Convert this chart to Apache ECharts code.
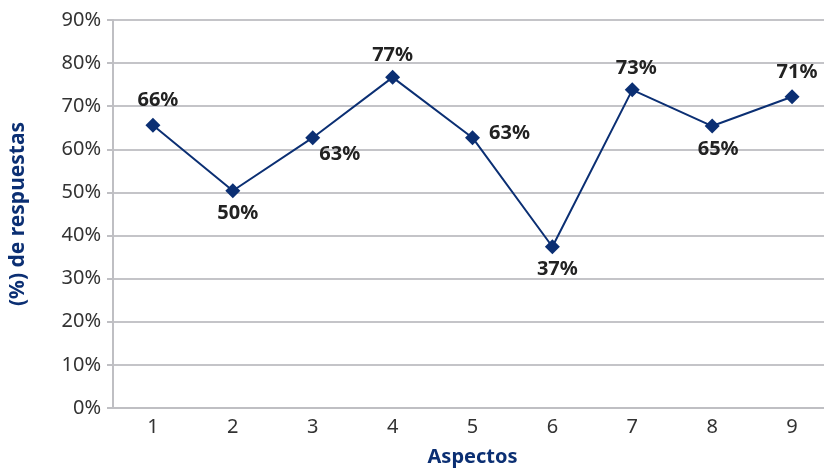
<!DOCTYPE html>
<html>
<head>
<meta charset="utf-8">
<script src="https://cdn.jsdelivr.net/npm/echarts@6/dist/echarts.min.js"></script>
<style>
html,body{margin:0;padding:0;background:#fff;}
#c{width:824px;height:471px;}
</style>
</head>
<body>
<div id="c"></div>
<script>
var categories = ['1','2','3','4','5','6','7','8','9'];
var values = [65.6, 50.4, 62.7, 76.7, 62.7, 37.4, 73.8, 65.4, 72.2];
var labelTexts = ['66%','50%','63%','77%','63%','37%','73%','65%','71%'];
var labelOffsets = [[5,-25],[5,23],[27,17],[0,-22],[37,-4],[5,23],[4,-22],[6,23],[5,-24]];

var blue = '#0b2f73';
var font = 'Noto Sans';
var chart = echarts.init(document.getElementById('c'));
chart.setOption({
  animation: false,
  grid: {left: 113, right: -8, top: 20, bottom: 63, containLabel: false, outerBoundsMode: 'none'},
  xAxis: {
    type: 'category',
    data: categories,
    boundaryGap: true,
    name: 'Aspectos',
    nameLocation: 'middle',
    nameGap: 39,
    nameTextStyle: {fontFamily: font, fontWeight: 'bold', fontSize: 20, color: blue},
    axisLine: {lineStyle: {color: '#bfbfc3', width: 2}},
    axisTick: {show: false},
    axisLabel: {fontFamily: font, fontSize: 20, color: '#333', margin: 9}
  },
  yAxis: {
    type: 'value',
    min: 0, max: 90, interval: 10,
    name: '(%) de respuestas',
    nameLocation: 'middle',
    nameGap: 84,
    nameTextStyle: {fontFamily: font, fontWeight: 'bold', fontSize: 21, color: blue},
    axisLine: {show: true, lineStyle: {color: '#bfbfc3', width: 2}},
    axisTick: {show: true, length: 6, lineStyle: {color: '#bfbfc3', width: 2}},
    splitLine: {lineStyle: {color: '#c4c4c8', width: 2}},
    axisLabel: {fontFamily: font, fontSize: 20, color: '#333', margin: 12, formatter: '{value}%'}
  },
  series: [{
    type: 'line',
    data: values.map(function(v, i){
      return {value: v, label: {offset: labelOffsets[i]}};
    }),
    symbol: 'diamond',
    symbolSize: 15,
    lineStyle: {color: blue, width: 2},
    itemStyle: {color: blue},
    label: {
      show: true,
      position: 'inside',
      fontFamily: font,
      fontWeight: 'bold',
      fontSize: 20,
      color: '#222',
      formatter: function(p){ return labelTexts[p.dataIndex]; }
    }
  }]
});
</script>
</body>
</html>
